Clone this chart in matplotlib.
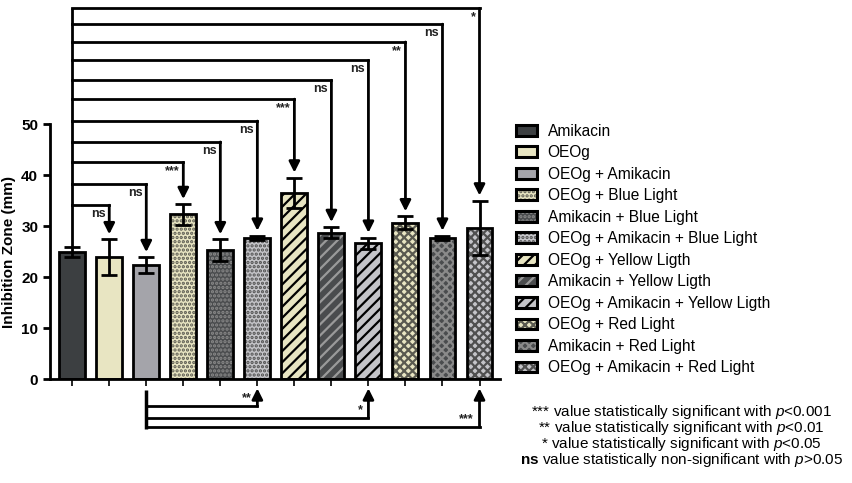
import matplotlib
matplotlib.use("Agg")
import matplotlib.pyplot as plt
import matplotlib.patches as mpatches
from matplotlib.legend_handler import HandlerTuple

plt.rcParams["font.family"] = ["Liberation Sans", "DejaVu Sans"]
plt.rcParams["mathtext.fontset"] = "custom"
plt.rcParams["mathtext.it"] = "Liberation Sans:italic"
plt.rcParams["mathtext.rm"] = "Liberation Sans"
plt.rcParams["mathtext.bf"] = "Liberation Sans:bold"
plt.rcParams["hatch.linewidth"] = 1.6

# treatments and inhibition zones (mm)
groups = ["Amikacin", "OEOg", "OEOg + Amikacin",
          "OEOg + Blue Light", "Amikacin + Blue Light", "OEOg + Amikacin + Blue Light",
          "OEOg + Yellow Ligth", "Amikacin + Yellow Ligth", "OEOg + Amikacin + Yellow Ligth",
          "OEOg + Red Light", "Amikacin + Red Light", "OEOg + Amikacin + Red Light"]
means = [25.0, 23.9, 22.4, 32.3, 25.3, 27.7, 36.5, 28.7, 26.6, 30.7, 27.7, 29.7]
errs = [1.0, 3.5, 1.5, 2.0, 2.1, 0.4, 3.0, 1.1, 1.1, 1.2, 0.4, 5.3]

# comparisons against Amikacin (top) and OEOg + Amikacin (bottom)
top_targets = [1, 2, 3, 4, 5, 6, 7, 8, 9, 10, 11]
top_labels = ["ns", "ns", "***", "ns", "ns", "***", "ns", "ns", "**", "ns", "*"]
top_levels = [34.1, 38.2, 42.5, 46.5, 50.6, 54.9, 58.6, 62.5, 66.1, 69.6, 72.7]
bot_targets = [5, 8, 11]
bot_labels = ["**", "*", "***"]
bot_levels = [-5.3, -7.6, -9.4]

footnotes = [r"*** value statistically significant with $\it{p}$<0.001",
             r"** value statistically significant with $\it{p}$<0.01",
             r"* value statistically significant with $\it{p}$<0.05",
             r"$\bf{ns}$ value statistically non-significant with $\it{p}$>0.05"]

# styles
cream = "#e8e5c2"
dark = "#3c3f41"
grey = "#a4a4aa"
lgrey = "#c4c4c8"
faces = [dark, cream, grey,
         cream, "#4a4c4e", lgrey,
         cream, "#4a4c4e", lgrey,
         cream, "#4a4c4e", lgrey]
hatches = [None, None, None,
           "....", "....", "....",
           "///", "///", "///",
           "xxxx", "xxxx", "xxxx"]
hatch_cols = ["black", "black", "black",
              "#5a5a50", "#8a8a8a", "#505050",
              "black", "#9a9a9a", "black",
              "#5a5a50", "#8a8a8a", "#505050"]

fig = plt.figure(figsize=(8.52, 4.83), dpi=100)
ax = fig.add_axes([0.0587, 0.215, 0.528, 0.528])

x = list(range(len(groups)))
handles = []
for i in x:
    ax.bar(x[i], means[i], width=0.7, color=faces[i], edgecolor=hatch_cols[i],
           hatch=hatches[i], linewidth=0, zorder=2)
    ax.bar(x[i], means[i], width=0.7, fill=False, edgecolor="black",
           linewidth=2, zorder=3)
    h1 = mpatches.Patch(facecolor=faces[i], edgecolor=hatch_cols[i],
                        hatch=hatches[i], linewidth=0)
    h2 = mpatches.Patch(fill=False, edgecolor="black", linewidth=2.2)
    handles.append((h1, h2))

ax.errorbar(x, means, yerr=errs, fmt="none", ecolor="black", elinewidth=2,
            capsize=6, capthick=2, zorder=4)

# top comparison brackets from Amikacin
ax.plot([0, 0], [means[0] + errs[0], top_levels[-1]], color="black", lw=2,
        clip_on=False, solid_capstyle="butt")
for t, lab, lev in zip(top_targets, top_labels, top_levels):
    ax.plot([0, t], [lev, lev], color="black", lw=2, clip_on=False,
            solid_capstyle="projecting")
    ax.annotate("", xy=(t, means[t] + errs[t] + 1.0), xytext=(t, lev),
                arrowprops=dict(arrowstyle="-|>", color="black", lw=2,
                                mutation_scale=16, shrinkA=0, shrinkB=0),
                annotation_clip=False)
    ax.text(t - 0.1, lev - 0.6, lab, ha="right", va="top", fontsize=9,
            fontweight="bold", color="#222222", clip_on=False)

# bottom comparison brackets from OEOg + Amikacin
ax.plot([2, 2], [-2.2, bot_levels[-1] - 0.3], color="black", lw=2.5,
        clip_on=False, solid_capstyle="butt")
for t, lab, lev in zip(bot_targets, bot_labels, bot_levels):
    ax.plot([2, t], [lev, lev], color="black", lw=2, clip_on=False)
    ax.annotate("", xy=(t, -1.8), xytext=(t, lev),
                arrowprops=dict(arrowstyle="-|>", color="black", lw=2,
                                mutation_scale=16, shrinkA=0, shrinkB=0),
                annotation_clip=False)
    ax.text(t - 0.15, lev + 0.3, lab, ha="right", va="bottom", fontsize=9,
            fontweight="bold", color="#222222", clip_on=False)

ax.set_xlim(-0.6, 11.55)
ax.set_ylim(0, 50)
ax.set_xticks(x)
ax.set_xticklabels([])
ax.set_yticks([0, 10, 20, 30, 40, 50])
ax.tick_params(axis="y", width=2, length=5, labelsize=11)
ax.tick_params(axis="x", width=1.2, length=5)
for lab in ax.get_yticklabels():
    lab.set_fontweight("bold")
for side in ["top", "right"]:
    ax.spines[side].set_visible(False)
for side in ["left", "bottom"]:
    ax.spines[side].set_linewidth(2)
ax.set_ylabel("Inhibition Zone (mm)", fontsize=11, fontweight="bold", labelpad=4)

fig.legend(handles, groups, handler_map={tuple: HandlerTuple(ndivide=1)},
           loc="upper left", bbox_to_anchor=(0.598, 0.757), frameon=False,
           fontsize=11.2, handlelength=1.4, handleheight=0.7,
           handletextpad=0.65, labelspacing=0.42, borderaxespad=0)

# footnote block, one multi-line text
fig.text(0.80, 0.166, "\n".join(footnotes), ha="center", va="top",
         multialignment="center", fontsize=11, linespacing=0.86)

fig.savefig("out.png", dpi=100)
